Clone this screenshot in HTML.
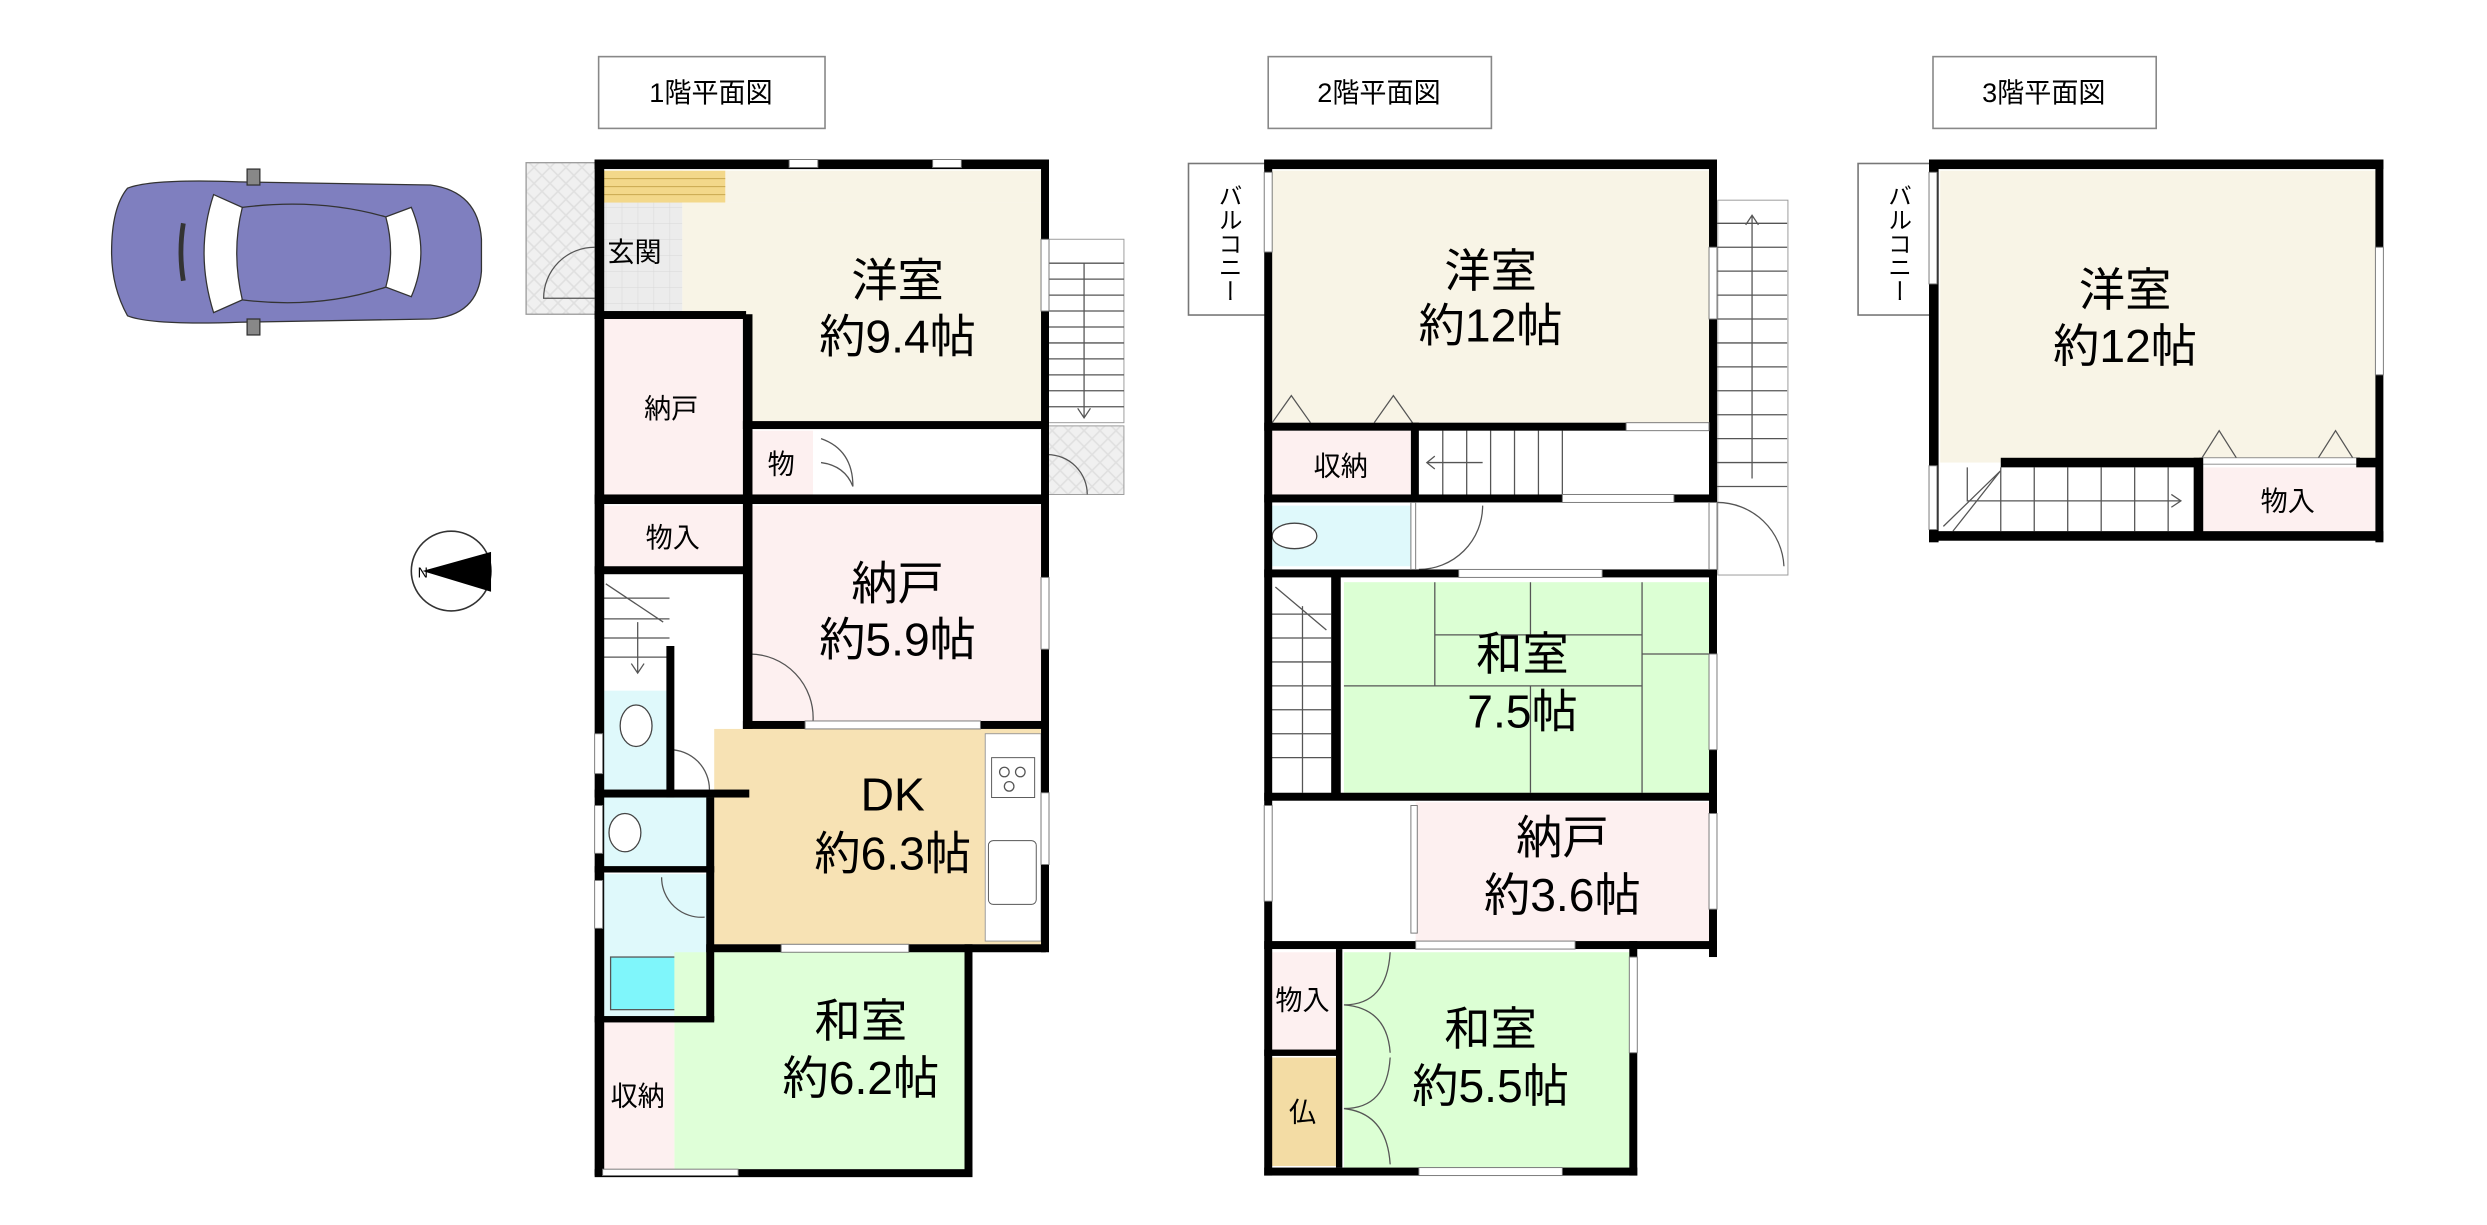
<!DOCTYPE html>
<html><head><meta charset="utf-8">
<style>
html,body{margin:0;padding:0;background:#fff;}
svg{display:block;}
text{font-family:"Liberation Sans","Noto Sans CJK JP",sans-serif;fill:#000;}
.t{font-size:29px;text-anchor:middle;}
.s{font-size:17px;text-anchor:middle;}
.h{font-size:17px;text-anchor:middle;}
.ln{stroke:#555;stroke-width:0.8;fill:none;}
</style></head><body>
<svg width="2487" height="1225" viewBox="0 0 1560 768" preserveAspectRatio="none" xmlns="http://www.w3.org/2000/svg">
<defs>
<pattern id="hat" width="10" height="10" patternUnits="userSpaceOnUse"><rect width="10" height="10" fill="#f0f0f0"/><path d="M0 0L10 10M10 0L0 10" stroke="#e0e0e0" stroke-width="1"/></pattern>
<pattern id="tile" width="10" height="10" patternUnits="userSpaceOnUse"><rect width="10" height="10" fill="#ececec"/><path d="M0 0H10M0 0V10" stroke="#d8d8d8" stroke-width="0.6"/></pattern>
</defs>
<!-- titles -->
<rect x="375.5" y="35.5" width="142" height="45" fill="#fff" stroke="#888"/>
<text class="h" x="446" y="64">1階平面図</text>
<rect x="795.5" y="35.5" width="140" height="45" fill="#fff" stroke="#888"/>
<text class="h" x="865" y="64">2階平面図</text>
<rect x="1212.5" y="35.5" width="140" height="45" fill="#fff" stroke="#888"/>
<text class="h" x="1282" y="64">3階平面図</text>

<!-- car -->
<g stroke="#333" stroke-width="0.8">
<path d="M80 118 Q95 112 150 114 L270 116 Q300 120 302 150 L302 170 Q300 198 270 200 L150 202 Q95 204 80 198 Q70 180 70 158 Q70 130 80 118Z" fill="#7f7fbf"/>
<path d="M134 122 Q122 158 134 196 L152 188 Q145 158 152 130Z" fill="#fff"/>
<path d="M258 130 Q270 158 258 186 L242 180 Q248 158 242 136Z" fill="#fff"/>
<path d="M152 130 Q200 124 242 136 M152 188 Q200 194 242 180" fill="none"/>
<path d="M115 140 Q112 158 115 176" fill="none" stroke-width="3"/>
<rect x="155" y="106" width="8" height="10" fill="#888"/>
<rect x="155" y="200" width="8" height="10" fill="#888"/>
</g>
<!-- compass -->
<circle cx="283" cy="358" r="25" fill="#fff" stroke="#333" stroke-width="1"/>
<path d="M265 358 L308 346 L308 371Z" fill="#000"/>
<text x="262" y="362" style="font-size:9px">N</text>

<!-- ===== FLOOR 1 ===== -->
<rect x="330" y="102" width="45" height="95" fill="url(#hat)" stroke="#999" stroke-width="0.8"/>
<path d="M373 155 A32 32 0 0 0 341 187 L373 187" class="ln"/>
<rect x="378" y="107" width="50" height="88" fill="url(#tile)"/>
<rect x="378" y="107" width="77" height="20" fill="#f3d88a"/>
<path d="M378 112H455M378 117H455M378 122H455" stroke="#c9a850" stroke-width="0.6"/>
<text class="s" x="398" y="164">玄関</text>
<rect x="428" y="127" width="225" height="140" fill="#f8f4e6"/>
<rect x="455" y="107" width="198" height="20" fill="#f8f4e6"/>
<text class="t" x="563" y="186">洋室</text>
<text class="t" x="563" y="221">約9.4帖</text>
<rect x="378" y="200" width="88" height="110" fill="#fdf0f0"/>
<text class="s" x="421" y="262">納戸</text>
<rect x="470" y="270" width="40" height="40" fill="#fdf0f0"/>
<text class="s" x="490" y="297">物</text>
<rect x="510" y="270" width="100" height="40" fill="#fff"/>
<path d="M515 275 Q535 282 535 305 M515 290 Q530 292 535 305" class="ln"/>
<rect x="657" y="150" width="48" height="115" fill="#fff" stroke="#999" stroke-width="0.6"/>
<path d="M657 165H705M657 175H705M657 185H705M657 195H705M657 205H705M657 215H705M657 225H705M657 235H705M657 245H705M657 255H705M680 165V262M676 256L680 262L684 256" class="ln"/>
<rect x="657" y="267" width="48" height="43" fill="url(#hat)" stroke="#999" stroke-width="0.6"/>
<path d="M657 285 A25 25 0 0 1 682 310" class="ln"/>
<rect x="378" y="317" width="88" height="38" fill="#fdf0f0"/>
<text class="s" x="422" y="343">物入</text>
<rect x="470" y="317" width="183" height="135" fill="#fdf0f0"/>
<text class="t" x="563" y="376">納戸</text>
<text class="t" x="563" y="411">約5.9帖</text>
<path d="M470 410 A40 40 0 0 1 510 452 A40 40 0 0 1 470 492" class="ln"/>
<rect x="378" y="362" width="42" height="68" fill="#fff"/>
<path d="M378 375H420M378 388H420M378 400H420M378 412H420M400 390V422M396 416L400 422L404 416M380 366L416 390" class="ln"/>
<rect x="378" y="433" width="42" height="62" fill="#dff9fb"/>
<ellipse cx="399" cy="455" rx="10" ry="13" fill="#fff" stroke="#444" stroke-width="0.8"/>
<rect x="420" y="362" width="45" height="143" fill="#fff"/>
<path d="M420 470 A25 25 0 0 1 445 495" class="ln"/>
<rect x="448" y="457" width="205" height="135" fill="#f7e2b4"/>
<rect x="618" y="460" width="35" height="130" fill="#fff" stroke="#999" stroke-width="0.6"/>
<rect x="622" y="475" width="27" height="25" fill="#fff" stroke="#555" stroke-width="0.6"/>
<circle cx="630" cy="484" r="3" class="ln"/><circle cx="640" cy="484" r="3" class="ln"/><circle cx="633" cy="493" r="3" class="ln"/>
<rect x="620" y="527" width="30" height="40" rx="3" fill="#fff" stroke="#555" stroke-width="0.6"/>
<text class="t" x="560" y="508">DK</text>
<text class="t" x="560" y="545">約6.3帖</text>
<rect x="378" y="500" width="67" height="45" fill="#dff9fb"/>
<ellipse cx="392" cy="522" rx="10" ry="12" fill="#fff" stroke="#444" stroke-width="0.8"/>
<rect x="378" y="548" width="67" height="90" fill="#dff9fb"/>
<path d="M415 550 A25 25 0 0 0 442 575" class="ln"/>
<rect x="383" y="600" width="57" height="33" fill="#7ff6fb" stroke="#555" stroke-width="0.8"/>
<rect x="423" y="597" width="182" height="136" fill="#dfffd8"/>
<text class="t" x="540" y="650">和室</text>
<text class="t" x="540" y="686">約6.2帖</text>
<rect x="378" y="640" width="45" height="93" fill="#fdf0f0"/>
<text class="s" x="400" y="693">収納</text>
<!-- walls F1 -->
<g fill="#000">
<rect x="373" y="100" width="284" height="6"/>
<rect x="373" y="100" width="6" height="637"/>
<rect x="653" y="100" width="5" height="497"/>
<rect x="466" y="197" width="6" height="260"/>
<rect x="466" y="264" width="190" height="5"/>
<rect x="373" y="310" width="284" height="6"/>
<rect x="373" y="355" width="97" height="5"/>
<rect x="466" y="452" width="190" height="5"/>
<rect x="418" y="405" width="5" height="95"/>
<rect x="373" y="495" width="97" height="5"/>
<rect x="373" y="543" width="75" height="4"/>
<rect x="443" y="500" width="5" height="140"/>
<rect x="373" y="637" width="75" height="4"/>
<rect x="443" y="592" width="213" height="5"/>
<rect x="605" y="592" width="5" height="145"/>
<rect x="373" y="733" width="237" height="5"/>
<rect x="373" y="195" width="95" height="5"/>
</g>
<g fill="#fff" stroke="#777" stroke-width="0.6">
<rect x="495" y="100" width="18" height="5"/><rect x="585" y="100" width="18" height="5"/>
<rect x="653" y="150" width="5" height="45"/><rect x="653" y="362" width="5" height="45"/><rect x="653" y="497" width="5" height="45"/>
<rect x="505" y="452" width="110" height="5"/><rect x="490" y="592" width="80" height="5"/>
<rect x="373" y="460" width="5" height="25"/><rect x="373" y="505" width="5" height="30"/><rect x="373" y="552" width="5" height="30"/>
<rect x="378" y="733" width="85" height="4"/>
</g>

<!-- ===== FLOOR 2 ===== -->
<rect x="745.5" y="102.5" width="50" height="95" fill="#fff" stroke="#777"/>
<text x="770" y="115" style="font-size:15px;writing-mode:vertical-rl">バルコニー</text>
<rect x="797" y="107" width="275" height="158" fill="#f8f4e6"/>
<text class="t" x="935" y="180">洋室</text>
<text class="t" x="935" y="214">約12帖</text>
<path d="M798 265 L810 248 L822 265 M862 265 L874 248 L886 265" class="ln"/>
<rect x="797" y="270" width="88" height="40" fill="#fdf0f0"/>
<text class="s" x="841" y="298">収納</text>
<rect x="890" y="270" width="180" height="40" fill="#fff"/>
<path d="M905 270V310M920 270V310M935 270V310M950 270V310M965 270V310M980 270V310M895 290H930M900 286L895 290L900 294" class="ln"/>
<rect x="1077.5" y="125.5" width="44" height="235" fill="#fff" stroke="#999" stroke-width="0.6"/>
<path d="M1077 140H1121M1077 155H1121M1077 170H1121M1077 185H1121M1077 200H1121M1077 215H1121M1077 230H1121M1077 245H1121M1077 260H1121M1077 275H1121M1077 290H1121M1077 305H1121M1099 135V300M1095 141L1099 135L1103 141M1077 315 A42 42 0 0 1 1119 355" class="ln"/>
<rect x="797" y="317" width="88" height="38" fill="#dff9fb"/>
<ellipse cx="812" cy="336" rx="14" ry="8" fill="#fff" stroke="#444" stroke-width="0.8"/>
<rect x="888" y="317" width="185" height="40" fill="#fff"/>
<path d="M930 317 A40 40 0 0 1 890 357" class="ln"/>
<rect x="797" y="365" width="38" height="132" fill="#fff"/>
<path d="M797 385H835M797 400H835M797 415H835M797 430H835M797 445H835M797 460H835M797 475H835M817 380V497M800 368L832 395" class="ln"/>
<rect x="843" y="365" width="229" height="132" fill="#dcffd4"/>
<path d="M900 365V430M900 430H843M900 398H1030M960 365V398M1030 365V497M1030 410H1072M960 430V497M843 430H1030" class="ln"/>
<text class="t" x="955" y="420">和室</text>
<text class="t" x="955" y="456">7.5帖</text>
<rect x="797" y="503" width="88" height="89" fill="#fff"/>
<rect x="888" y="503" width="184" height="87" fill="#fdf0f0"/>
<text class="t" x="980" y="535">納戸</text>
<text class="t" x="980" y="571">約3.6帖</text>
<rect x="797" y="597" width="41" height="61" fill="#fdf0f0"/>
<text class="s" x="817" y="633">物入</text>
<rect x="797" y="663" width="41" height="68" fill="#f3dca4"/>
<text class="s" x="817" y="703">仏</text>
<rect x="843" y="597" width="179" height="135" fill="#dcffd4"/>
<path d="M843 630 Q870 630 872 597 M843 630 Q870 632 872 660 M843 695 Q870 695 872 663 M843 695 Q870 698 872 730" class="ln"/>
<text class="t" x="935" y="655">和室</text>
<text class="t" x="935" y="691">約5.5帖</text>
<g fill="#000">
<rect x="793" y="100" width="284" height="6"/>
<rect x="793" y="100" width="5" height="637"/>
<rect x="1072" y="100" width="5" height="500"/>
<rect x="793" y="265" width="284" height="5"/>
<rect x="885" y="265" width="5" height="48"/>
<rect x="793" y="310" width="284" height="5"/>
<rect x="793" y="357" width="284" height="5"/>
<rect x="835" y="360" width="6" height="140"/>
<rect x="793" y="497" width="284" height="5"/>
<rect x="793" y="590" width="284" height="5"/>
<rect x="838" y="595" width="4" height="137"/>
<rect x="793" y="658" width="48" height="4"/>
<rect x="1022" y="590" width="5" height="147"/>
<rect x="793" y="732" width="234" height="5"/>
</g>
<g fill="#fff" stroke="#777" stroke-width="0.6">
<rect x="793" y="108" width="5" height="50"/><rect x="1072" y="155" width="5" height="45"/><rect x="1072" y="410" width="5" height="60"/><rect x="1072" y="510" width="5" height="60"/>
<rect x="793" y="505" width="5" height="60"/><rect x="915" y="357" width="90" height="5"/><rect x="1020" y="265" width="52" height="5"/>
<rect x="980" y="310" width="70" height="5"/><rect x="885" y="505" width="4" height="80"/><rect x="888" y="590" width="100" height="5"/>
<rect x="890" y="732" width="90" height="5"/><rect x="1022" y="600" width="5" height="60"/>
<rect x="1072" y="315" width="5" height="42"/><rect x="885" y="315" width="3" height="42"/>
</g>

<!-- ===== FLOOR 3 ===== -->
<rect x="1165.5" y="102.5" width="47" height="95" fill="#fff" stroke="#777"/>
<text x="1190" y="115" style="font-size:15px;writing-mode:vertical-rl">バルコニー</text>
<rect x="1217" y="107" width="273" height="183" fill="#f8f4e6"/>
<text class="t" x="1333" y="192">洋室</text>
<text class="t" x="1333" y="227">約12帖</text>
<path d="M1380 289 L1392 270 L1404 289 M1453 289 L1465 270 L1477 289" class="ln"/>
<rect x="1380" y="287" width="100" height="4" fill="#fff" stroke="#777" stroke-width="0.5"/>
<rect x="1217" y="293" width="160" height="40" fill="#fff"/>
<path d="M1255 293V333M1276 293V333M1297 293V333M1318 293V333M1339 293V333M1360 293V333M1234 293V314H1368M1362 310L1368 314L1362 318M1219 330L1255 295L1225 333" class="ln"/>
<rect x="1382" y="293" width="108" height="40" fill="#fdf0f0"/>
<text class="s" x="1435" y="320">物入</text>
<g fill="#000">
<rect x="1210" y="100" width="285" height="6"/>
<rect x="1210" y="100" width="6" height="240"/>
<rect x="1490" y="100" width="5" height="240"/>
<rect x="1210" y="333" width="285" height="6"/>
<rect x="1255" y="287" width="125" height="6"/>
<rect x="1478" y="287" width="15" height="6"/>
<rect x="1376" y="287" width="6" height="50"/>
</g>
<g fill="#fff" stroke="#777" stroke-width="0.6">
<rect x="1210" y="108" width="5" height="70"/><rect x="1490" y="155" width="5" height="80"/><rect x="1210" y="292" width="5" height="40"/>
</g>
</svg>
</body></html>
